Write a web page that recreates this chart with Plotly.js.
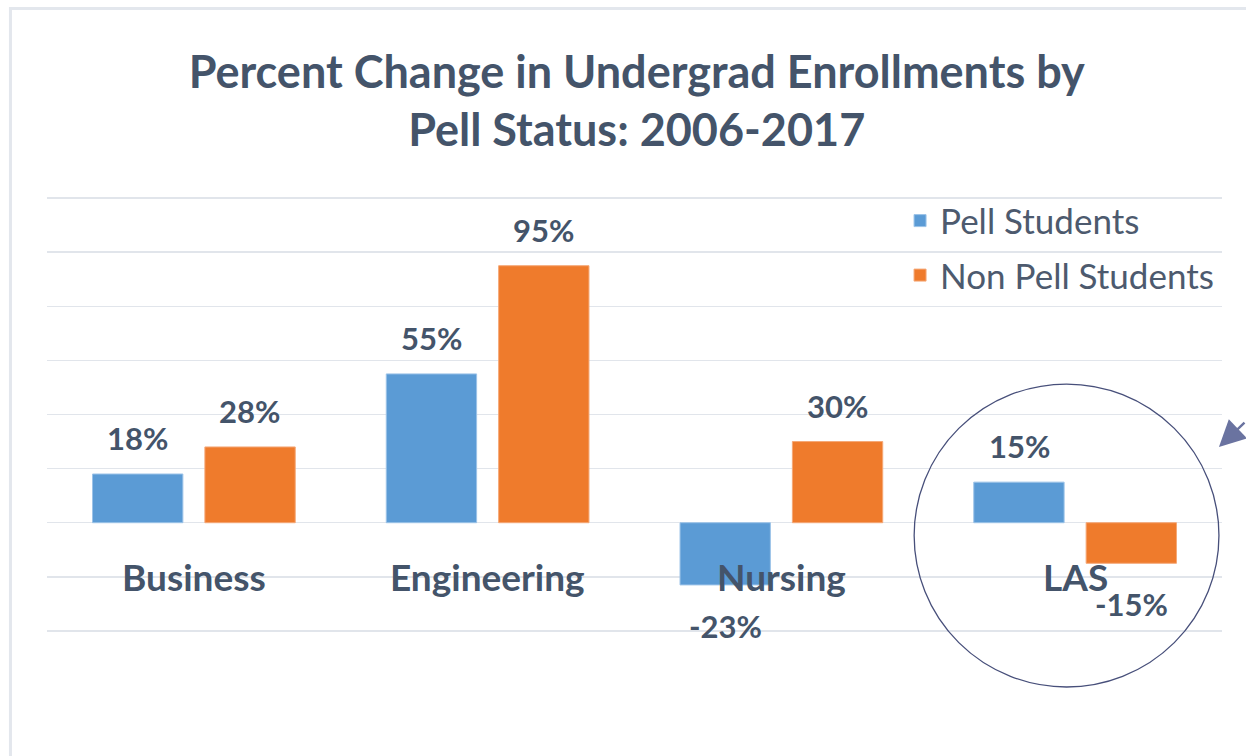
<!DOCTYPE html>
<html>
<head>
<meta charset="utf-8">
<script src="https://cdn.plot.ly/plotly-3.0.1.min.js"></script>
<style>html,body{margin:0;padding:0;background:#fff;}#chart{width:1246px;height:756px;}</style>
</head>
<body>
<div id="chart"></div>
<script>
const categories = ["Business", "Engineering", "Nursing", "LAS"];
const pellValues = [18, 55, -23, 15];
const nonPellValues = [28, 95, 30, -15];
const seriesNames = ["Pell Students", "Non Pell Students"];
const yTickValues = [-40, -20, 0, 20, 40, 60, 80, 100, 120];

const textColor = "#44546a";
const font = "Lato, 'Open Sans', sans-serif";

const traces = [
  {
    type: "bar", name: seriesNames[0], x: categories, y: pellValues,
    legendgroup: "a",
    marker: {color: "#5b9bd5", line: {color: "#9cc3e8", width: 1}},
    hoverinfo: "skip"
  },
  {
    type: "bar", name: seriesNames[1], x: categories, y: nonPellValues,
    legendgroup: "b",
    marker: {color: "#ef7b2c", line: {color: "#f5a877", width: 1}},
    hoverinfo: "skip"
  }
];

function fmt(v) { return v + "%"; }

const annotations = [];
[[pellValues, -56], [nonPellValues, 56]].forEach(([vals, shift]) => {
  vals.forEach((v, i) => {
    annotations.push({
      x: categories[i], y: v, xref: "x", yref: "y",
      text: fmt(v), showarrow: false,
      xshift: shift,
      yanchor: v >= 0 ? "bottom" : "top",
      yshift: v >= 0 ? 15 : -20,
      font: {family: font, size: 31, color: textColor, weight: "bold"}
    });
  });
});
categories.forEach((c) => {
  annotations.push({
    x: c, y: -20, xref: "x", yref: "y",
    text: c, showarrow: false, yanchor: "middle",
    font: {family: font, size: 37, color: textColor, weight: "bold"}
  });
});
// pointer arrow at right edge
annotations.push({
  x: 0.9974, y: 0.425, xref: "paper", yref: "paper",
  text: "", showarrow: true, arrowhead: 2, arrowsize: 2.2, arrowwidth: 2.4,
  arrowcolor: "#6a73a0", ax: 36, ay: -26
});

const layout = {
  width: 1246, height: 756,
  margin: {l: 47, r: 24, t: 197, b: 124},
  paper_bgcolor: "#ffffff", plot_bgcolor: "#ffffff",
  title: {
    text: "Percent Change in Undergrad Enrollments by<br>Pell Status: 2006-2017",
    font: {family: font, size: 45, color: textColor, weight: "bold"},
    x: 0.511, xref: "container", xanchor: "center",
    y: 0.884, yref: "container", yanchor: "middle"
  },
  barmode: "group",
  bargap: 0.235,
  bargroupgap: 0.196,
  xaxis: {showticklabels: false, showgrid: false, zeroline: false, showline: false, ticks: ""},
  yaxis: {
    range: [-40.4, 120.4], tickvals: yTickValues, showticklabels: false,
    gridcolor: "#e1e5eb", gridwidth: 1.5,
    zeroline: true, zerolinecolor: "#e1e5eb", zerolinewidth: 1.5,
    showline: false, ticks: ""
  },
  showlegend: true,
  legend: {
    x: 0.726, xanchor: "left", y: 1.013, yanchor: "top",
    traceorder: "grouped", tracegroupgap: 6,
    font: {family: font, size: 35, color: "#4d5a6e"},
    bgcolor: "rgba(0,0,0,0)"
  },
  shapes: [
    {type: "circle", xref: "paper", yref: "paper",
     x0: 0.738, x1: 0.9974, y0: -0.1264, y1: 0.570,
     line: {color: "#474f7a", width: 1.3}},
    {type: "rect", xref: "paper", yref: "paper",
     x0: -0.0311, x1: 1.2, y0: -0.5, y1: 1.4334,
     line: {color: "#e3e7ed", width: 3}}
  ],
  annotations: annotations
};

Plotly.newPlot("chart", traces, layout, {displayModeBar: false, staticPlot: true});
</script>
</body>
</html>
